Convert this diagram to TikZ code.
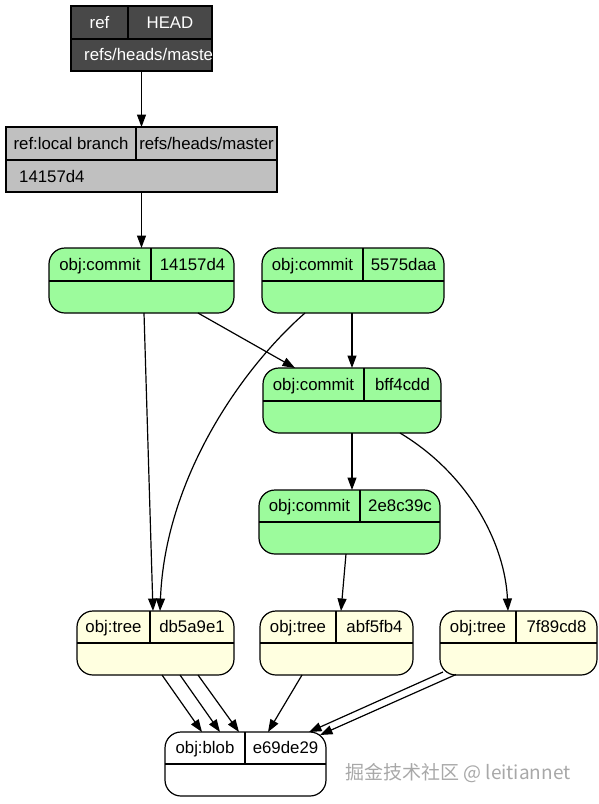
\documentclass[tikz,border=0pt]{standalone}
\usepackage{fontspec}
\setmainfont{Liberation Sans}
\newfontfamily\cjkfont{Noto Sans CJK SC}
\usetikzlibrary{arrows.meta,calc}
\definecolor{headgray}{HTML}{484848}
\definecolor{brgray}{HTML}{C0C0C0}
\definecolor{cgreen}{HTML}{9CFB9C}
\definecolor{tyellow}{HTML}{FFFFE0}
\definecolor{wmgray}{HTML}{A8A8A8}
\tikzset{
  box/.style={draw, line width=1.2pt, inner sep=0pt, outer sep=0pt},
  refbox/.style={box, fill=headgray},
  brbox/.style={box, fill=brgray},
  commitbox/.style={box, fill=cgreen, rounded corners=16pt},
  treebox/.style={box, fill=tyellow, rounded corners=16pt},
  blobbox/.style={box, fill=white, rounded corners=16pt},
  divline/.style={line width=1.2pt},
  lbl/.style={anchor=base, inner sep=0pt, font=\fontsize{16.8}{20}\selectfont},
  wlbl/.style={lbl, text=white},
  conn/.style={line width=1.2pt, -{Triangle[length=12.5pt,width=9pt]}},
}
\begin{document}
\begin{tikzpicture}[x=1pt,y=-1pt]
\useasboundingbox (0,0) rectangle (599,804);

% HEAD
\node[refbox, minimum width=141pt, minimum height=65pt] (head) at (141.5,38.5) {};
\draw[divline] (head.west |- 0,39) -- (head.east |- 0,39);
\draw[divline] (head.north -| 128,0) -- (128,39);
\node[wlbl] (headA) at (99.5,28) {ref};
\node[wlbl] (headB) at (170,28) {HEAD};
\node[wlbl, anchor=base west] (headC) at (84,60.5) {refs/heads/maste};

% local branch
\node[brbox, minimum width=271pt, minimum height=65pt] (lb) at (141.5,159.5) {};
\draw[divline] (lb.west |- 0,160) -- (lb.east |- 0,160);
\draw[divline] (lb.north -| 136,0) -- (136,160);
\node[lbl] (lbA) at (71,149) {ref:local branch};
\node[lbl] (lbB) at (206.5,149) {refs/heads/master};
\node[lbl, anchor=base west] (lbC) at (19,182) {14157d4};

% commits
\node[commitbox, minimum width=185pt, minimum height=65pt] (c1) at (141.5,280.5) {};
\draw[divline] (c1.west |- 0,281) -- (c1.east |- 0,281);
\draw[divline] (c1.north -| 151,0) -- (151,281);
\node[lbl] (c1A) at (100,270) {obj:commit};
\node[lbl] (c1B) at (192.5,270) {14157d4};

\node[commitbox, minimum width=182pt, minimum height=65pt] (c2) at (353,280.5) {};
\draw[divline] (c2.west |- 0,281) -- (c2.east |- 0,281);
\draw[divline] (c2.north -| 363,0) -- (363,281);
\node[lbl] (c2A) at (312.5,270) {obj:commit};
\node[lbl] (c2B) at (403.5,270) {5575daa};

\node[commitbox, minimum width=178pt, minimum height=65pt] (c3) at (352,400.5) {};
\draw[divline] (c3.west |- 0,401) -- (c3.east |- 0,401);
\draw[divline] (c3.north -| 364,0) -- (364,401);
\node[lbl] (c3A) at (313.5,390) {obj:commit};
\node[lbl] (c3B) at (402.5,390) {bff4cdd};

\node[commitbox, minimum width=181pt, minimum height=64pt] (c4) at (349.5,522) {};
\draw[divline] (c4.west |- 0,522) -- (c4.east |- 0,522);
\draw[divline] (c4.north -| 360,0) -- (360,522);
\node[lbl] (c4A) at (309.5,511.5) {obj:commit};
\node[lbl] (c4B) at (400,511.5) {2e8c39c};

% trees
\node[treebox, minimum width=157pt, minimum height=64pt] (t1) at (155.5,643) {};
\draw[divline] (t1.west |- 0,643) -- (t1.east |- 0,643);
\draw[divline] (t1.north -| 150,0) -- (150,643);
\node[lbl] (t1A) at (113.5,632.5) {obj:tree};
\node[lbl] (t1B) at (192,632.5) {db5a9e1};

\node[treebox, minimum width=153pt, minimum height=64pt] (t2) at (336.5,643) {};
\draw[divline] (t2.west |- 0,643) -- (t2.east |- 0,643);
\draw[divline] (t2.north -| 336,0) -- (336,643);
\node[lbl] (t2A) at (298,632.5) {obj:tree};
\node[lbl] (t2B) at (374.5,632.5) {abf5fb4};

\node[treebox, minimum width=157pt, minimum height=64pt] (t3) at (518.5,643) {};
\draw[divline] (t3.west |- 0,643) -- (t3.east |- 0,643);
\draw[divline] (t3.north -| 516,0) -- (516,643);
\node[lbl] (t3A) at (478,632.5) {obj:tree};
\node[lbl] (t3B) at (556.5,632.5) {7f89cd8};

% blob
\node[blobbox, minimum width=161pt, minimum height=64pt] (b) at (245.5,764) {};
\draw[divline] (b.west |- 0,764) -- (b.east |- 0,764);
\draw[divline] (b.north -| 245,0) -- (245,764);
\node[lbl] (bA) at (205,753.5) {obj:blob};
\node[lbl] (bB) at (285.5,753.5) {e69de29};

% connectors
\draw[conn] (head.south) -- (lb.north);
\draw[conn] (lb.south) -- (c1.north);
\draw[conn] (c1.south -| 144,0) -- (t1.north -| 153,0);
\draw[conn] (c1.south -| 198,0) -- (c3.north -| 295,0);
\draw[conn] (c2.south -| 352,0) -- (c3.north -| 352,0);
\draw[conn] (c2.south -| 305,0) .. controls (240,370) and (165,480) .. (t1.north -| 160,0);
\draw[conn] (c3.south -| 352,0) -- (c4.north -| 352,0);
\draw[conn] (c3.south -| 400,0) .. controls (470,475) and (505,545) .. (t3.north -| 508,0);
\draw[conn] (c4.south -| 346,0) -- (t2.north -| 341,0);
\draw[conn] (t1.south -| 162,0) -- (b.north -| 202,0);
\draw[conn] (t1.south -| 180,0) -- (b.north -| 220,0);
\draw[conn] (t1.south -| 198,0) -- (b.north -| 239,0);
\draw[conn] (t2.south -| 302,0) -- (b.north -| 268,0);
\draw[conn] ([xshift=3pt,yshift=3pt]t3.south west) -- (b.north -| 309,0);
\draw[conn] ([xshift=16pt,yshift=0.5pt]t3.south west) -- ([xshift=-6pt,yshift=-3pt]b.north east);

% watermark
\node[anchor=west, inner sep=0pt, text=wmgray, font=\cjkfont\fontsize{19}{22}\selectfont] (wm) at (345,773) {掘金技术社区 @ leitiannet};
\end{tikzpicture}
\end{document}
